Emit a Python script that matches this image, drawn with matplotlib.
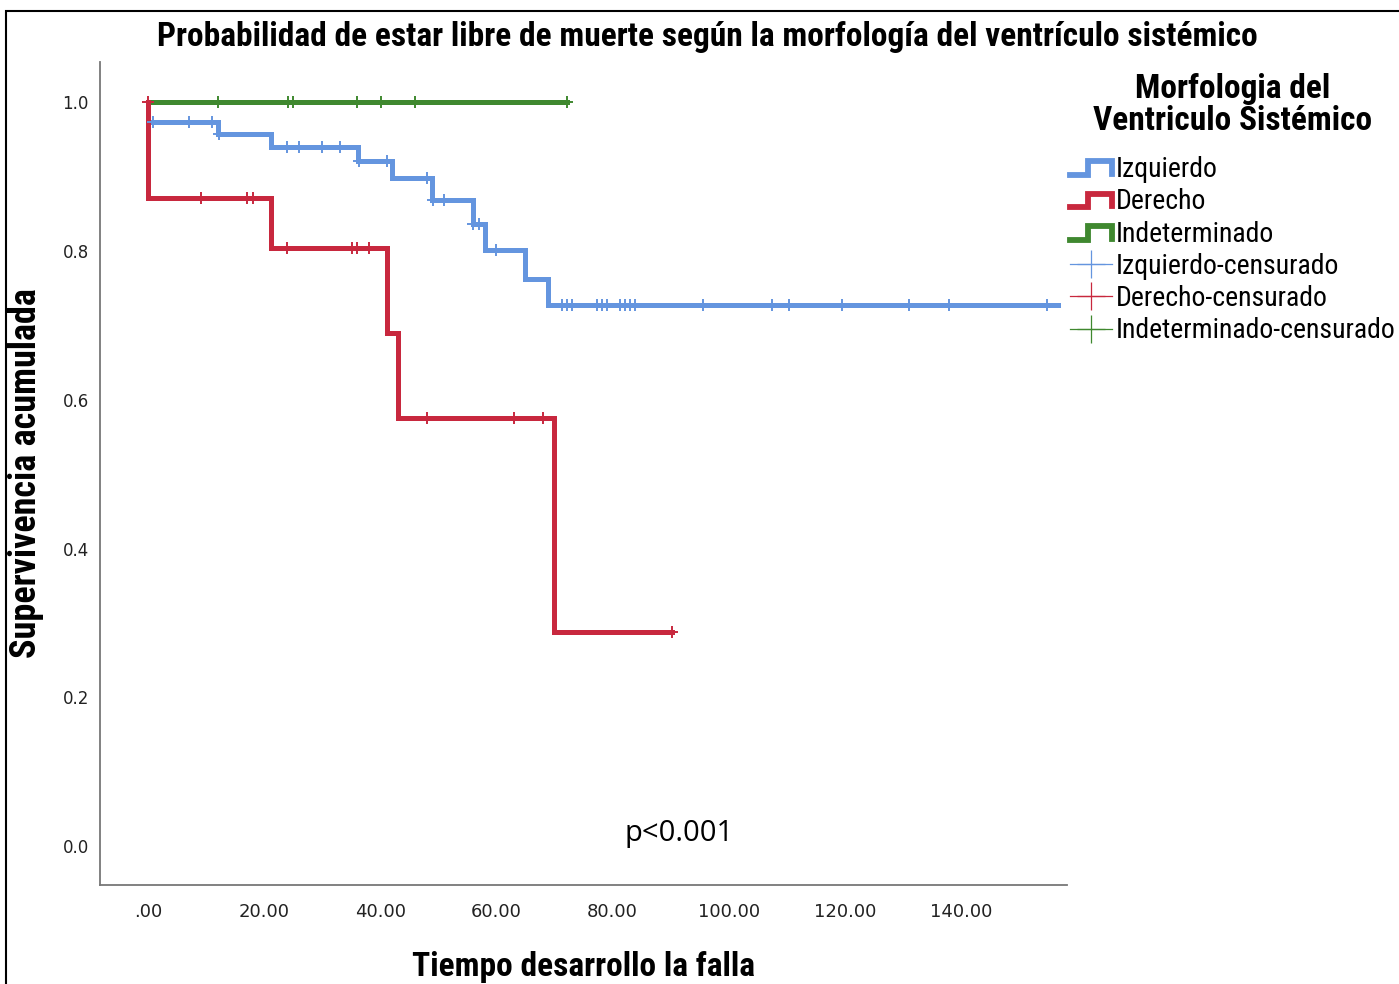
import numpy as np
import matplotlib
matplotlib.use("Agg")
import matplotlib.pyplot as plt
from matplotlib.lines import Line2D
from matplotlib.legend_handler import HandlerBase
from matplotlib.patches import Rectangle

# ---------------- data ----------------
groups = ["Izquierdo", "Derecho", "Indeterminado"]

izq_event_times = [0, 12, 21.2, 36.2, 42, 48.9, 55.9, 58, 64.9, 68.9]
izq_surv = [0.973, 0.957, 0.940, 0.921, 0.898, 0.868, 0.836, 0.801, 0.763, 0.728]
izq_censor = [0.9, 7, 11, 12.2, 24, 26, 30, 33, 36.4, 41.2, 48, 49.1, 51, 56, 57, 60,
              71.3, 72.1, 73, 77.3, 78.2, 79, 81.3, 82.1, 83, 83.9,
              95.6, 107.5, 110.4, 119.5, 131, 138, 154.8]
izq_end = 156.7

der_event_times = [0, 21.2, 41.2, 43, 69.9]
der_surv = [0.871, 0.804, 0.690, 0.575, 0.288]
der_censor = [0, 9.1, 17, 18.1, 24, 35.1, 36, 38, 48, 63, 68, 90.2]
der_end = 90.2

ind_event_times = []
ind_surv = []
ind_censor = [12, 24.1, 25, 36, 40.1, 46, 72.2]
ind_end = 72.2

x_ticks = [0, 20, 40, 60, 80, 100, 120, 140]
x_tick_labels = [".00", "20.00", "40.00", "60.00", "80.00", "100.00", "120.00", "140.00"]
y_ticks = [0.0, 0.2, 0.4, 0.6, 0.8, 1.0]
y_tick_labels = ["0.0", "0.2", "0.4", "0.6", "0.8", "1.0"]

colors = {"Izquierdo": "#6495DF", "Derecho": "#C8283E", "Indeterminado": "#3F882F"}

NARROW = ["Roboto Condensed", "DejaVu Sans"]

# ---------------- figure ----------------
fig = plt.figure(figsize=(13.99, 9.84), dpi=100)
fig.patches.append(Rectangle((6/1399, -0.05), 1.2, 1 - 11/984 + 0.05, transform=fig.transFigure,
                             fill=False, edgecolor="black", linewidth=1.5, zorder=0))
ax = fig.add_axes([100/1399, 1 - 885/984, (1067-100)/1399, (885-62)/984])


def step_data(ev_t, ev_s, end):
    xs = [0] + list(ev_t) + [end]
    ys = [1.0] + list(ev_s) + [ev_s[-1] if ev_s else 1.0]
    return xs, ys


def censor_y(ev_t, ev_s, cts):
    levels = [1.0] + list(ev_s)
    idx = np.searchsorted(np.array(ev_t, dtype=float), np.array(cts, dtype=float), side="left")
    return [levels[i] for i in idx]


data = {
    "Izquierdo": (izq_event_times, izq_surv, izq_censor, izq_end),
    "Indeterminado": (ind_event_times, ind_surv, ind_censor, ind_end),
    "Derecho": (der_event_times, der_surv, der_censor, der_end),
}

for name in ["Izquierdo", "Indeterminado", "Derecho"]:
    et, es, ct, end = data[name]
    xs, ys = step_data(et, es, end)
    c = colors[name]
    ax.plot(xs, ys, drawstyle="steps-post", color=c, linewidth=3.6, solid_joinstyle="miter", zorder=3)
    ax.plot(ct, censor_y(et, es, ct), linestyle="none", marker="+", markersize=9,
            markeredgewidth=1.4, color=c, zorder=4)

ax.set_xlim(-8.3, 158.3)
ax.set_ylim(-0.052, 1.054)
ax.set_xticks(x_ticks)
ax.set_xticklabels(x_tick_labels, fontsize=13, color="#222222")
ax.set_yticks(y_ticks)
ax.set_yticklabels(y_tick_labels, fontsize=12, color="#222222")
ax.tick_params(axis="x", length=0, pad=13)
ax.tick_params(axis="y", length=0, pad=8)
for s in ["top", "right"]:
    ax.spines[s].set_visible(False)
for s in ["left", "bottom"]:
    ax.spines[s].set_color("#777777")
    ax.spines[s].set_linewidth(1.3)

fig.text(707/1399, 1 - 37/984, "Probabilidad de estar libre de muerte según la morfología del ventrículo sistémico",
         ha="center", va="center", fontsize=24, fontweight="bold", family=NARROW)
fig.text(26/1399, 1 - 473/984, "Supervivencia acumulada", rotation=90, ha="center", va="center",
         fontsize=26, fontweight="bold", family=NARROW)
fig.text(584/1399, 1 - 967/984, "Tiempo desarrollo la falla", ha="center", va="center",
         fontsize=24, fontweight="bold", family=NARROW)
fig.text(679/1399, 1 - 833/984, "p<0.001", ha="center", va="center", fontsize=21,
         family=["Open Sans", "DejaVu Sans"])

# legend title as separate text
fig.text(1233/1399, 1 - 105/984, "Morfologia del\nVentriculo Sistémico", ha="center", va="center",
         fontsize=24, fontweight="bold", family=NARROW, linespacing=1.0, multialignment="center")


# ---------------- legend ----------------
class StepHandler(HandlerBase):
    def create_artists(self, legend, orig_handle, xdescent, ydescent, width, height, fontsize, trans):
        x0 = -xdescent
        xs = [x0, x0 + 0.42 * width, x0 + 0.42 * width, x0 + width, x0 + width]
        ys = [0.1 * height, 0.1 * height, 0.8 * height, 0.8 * height, 0.15 * height]
        ln = Line2D(xs, ys, color=orig_handle.get_color(), linewidth=4.2, solid_joinstyle="miter",
                    transform=trans)
        return [ln]


handles = []
labels = []
hmap = {}
for name in groups:
    h = Line2D([], [], color=colors[name])
    handles.append(h)
    labels.append(name)
    hmap[h] = StepHandler()
for name in groups:
    h = Line2D([], [], color=colors[name], linewidth=0.9, marker="+", markersize=20, markeredgewidth=0.9)
    handles.append(h)
    labels.append(name + "-censurado")

leg = fig.legend(handles, labels, handler_map=hmap, loc="upper left",
                 bbox_to_anchor=(1070/1399, 1 - 156/984), frameon=False,
                 prop={"family": NARROW, "size": 20}, handlelength=1.5, handletextpad=0.15,
                 labelspacing=0.19, borderaxespad=0, borderpad=0)

fig.savefig("out.png", dpi=100)
